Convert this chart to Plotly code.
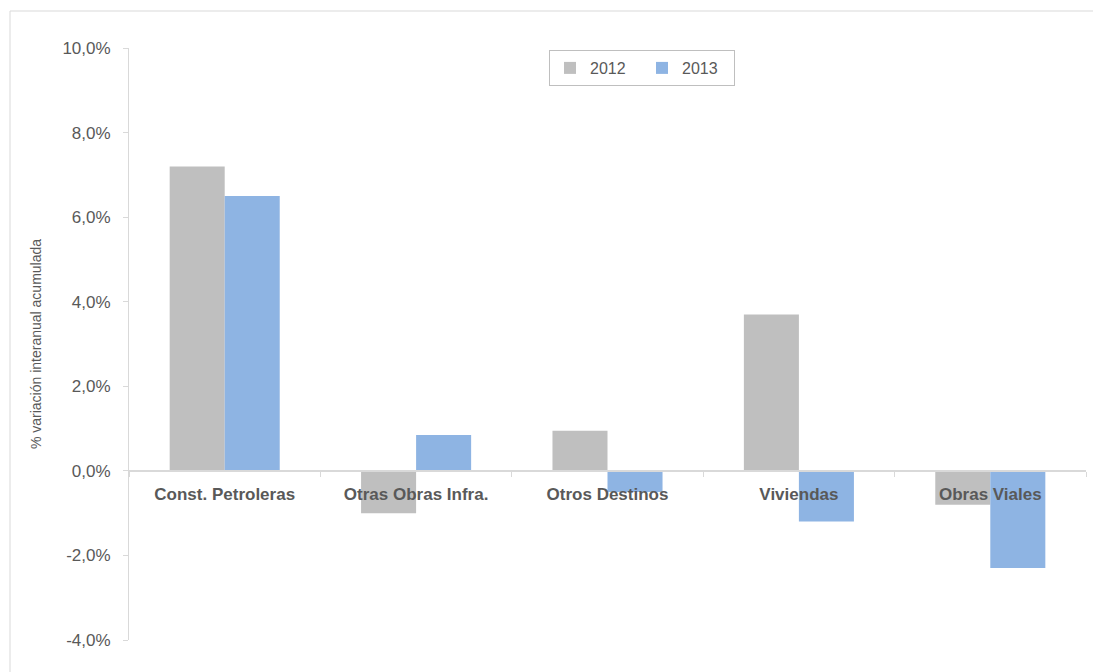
import plotly.graph_objects as go

categories = ["Const. Petroleras", "Otras Obras Infra.", "Otros Destinos", "Viviendas", "Obras Viales"]
values_2012 = [7.2, -1.0, 0.95, 3.7, -0.8]
values_2013 = [6.5, 0.85, -0.5, -1.2, -2.3]
series_names = ["2012", "2013"]
y_tick_vals = [-4, -2, 0, 2, 4, 6, 8, 10]
y_tick_text = ["-4,0%", "-2,0%", "0,0%", "2,0%", "4,0%", "6,0%", "8,0%", "10,0%"]

W, H = 1093, 672
L, R, T, B = 129, 7, 48, 32
pw, ph = W - L - R, H - T - B
ymin, ymax = -4, 10
FONT = "Liberation Sans, Arial, sans-serif"

fig = go.Figure()
fig.add_trace(go.Bar(x=categories, y=values_2012, name=series_names[0],
                     marker=dict(color="#bfbfbf", line=dict(width=0))))
fig.add_trace(go.Bar(x=categories, y=values_2013, name=series_names[1],
                     marker=dict(color="#8eb4e3", line=dict(width=0))))

zero_pos = (0 - ymin) / (ymax - ymin)

fig.update_layout(
    width=W, height=H,
    margin=dict(l=L, r=R, t=T, b=B),
    paper_bgcolor="white", plot_bgcolor="white",
    barmode="group", bargap=0.425, bargroupgap=0,
    font=dict(family=FONT, color="#595959", size=15),
    showlegend=True,
    legend=dict(orientation="h", x=(549 - L) / pw, y=(640 - 50) / ph,
                xanchor="left", yanchor="top",
                bordercolor="#bfbfbf", borderwidth=1, bgcolor="white",
                font=dict(size=16, color="#595959", family=FONT),
                entrywidth=47, entrywidthmode="pixels", tracegroupgap=0),
    xaxis=dict(anchor="free", position=zero_pos, showgrid=False,
               showline=True, linecolor="#d9d9d9", linewidth=2,
               ticks="outside", ticklen=5, tickcolor="#d9d9d9", tickwidth=1,
               tickson="boundaries",
               tickfont=dict(size=17, color="#595959", family=FONT),
               tickprefix="<b>", ticksuffix="</b>",
               ticklabelstandoff=8, zeroline=False, fixedrange=True),
    yaxis=dict(range=[ymin, ymax], tickvals=y_tick_vals, ticktext=y_tick_text,
               showgrid=False, zeroline=False,
               showline=True, linecolor="#d9d9d9", linewidth=1,
               ticks="outside", ticklen=5, tickcolor="#d9d9d9",
               tickfont=dict(size=17, color="#595959", family=FONT),
               ticklabelstandoff=9,
               title=dict(text="% variación interanual acumulada",
                          font=dict(size=14, color="#595959", family=FONT), standoff=17)),
)

# outer chart border (left and top)
fig.add_shape(type="line", xref="paper", yref="paper",
              x0=(10 - L) / pw, x1=(W + 5 - L) / pw, y0=(H - B - 11) / ph, y1=(H - B - 11) / ph,
              line=dict(color="#d9d9d9", width=1))
fig.add_shape(type="line", xref="paper", yref="paper",
              x0=(10 - L) / pw, x1=(10 - L) / pw, y0=(H - B - 11) / ph, y1=(H - B - H - 5) / ph,
              line=dict(color="#d9d9d9", width=1))

fig.write_html("out.html")
